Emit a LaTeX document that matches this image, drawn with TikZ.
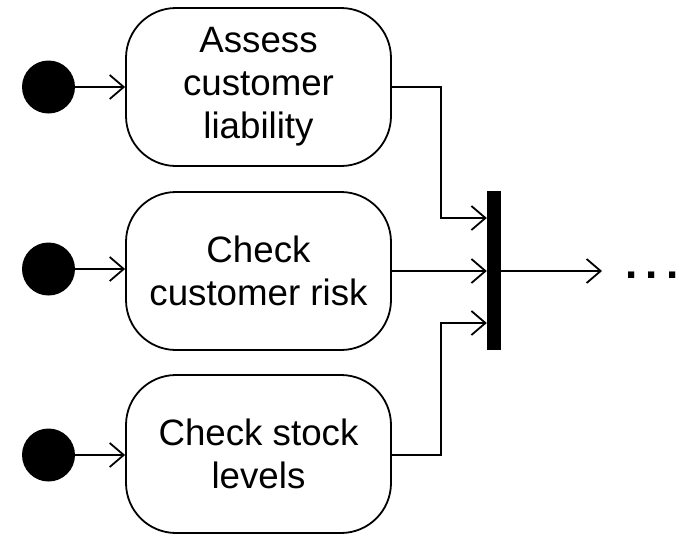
\documentclass[tikz,border=0pt]{standalone}
\usepackage{fontspec}
\setmainfont{Liberation Sans}
\usetikzlibrary{arrows.meta}
\begin{document}
\begin{tikzpicture}[x=1pt,y=-1pt,
  startdot/.style={circle,fill=black,inner sep=0pt,minimum size=53pt},
  action/.style={draw,line width=1.8pt,rounded corners=50pt,
    minimum width=265pt,minimum height=158pt,align=center,inner sep=0pt,
    font=\fontsize{36.7}{43}\selectfont},
  forkbar/.style={fill=black,inner sep=0pt,minimum width=14pt,minimum height=159pt},
  flow/.style={line width=1.8pt,-{Straight Barb[length=14pt,width=24pt,line width=1.8pt]}}]
\useasboundingbox (0,0) rectangle (682,533);

% initial nodes
\node[startdot] (s1) at (48.5,87) {};
\node[startdot] (s2) at (48.5,269) {};
\node[startdot] (s3) at (48.5,455) {};

% actions
\node[action] (a1) at (258.5,87) {Assess\\customer\\liability};
\node[action] (a2) at (258.5,271) {Check\\customer risk};
\node[action] (a3) at (258.5,454) {Check stock\\levels};

% fork/join bar
\node[forkbar] (bar) at (494,270.5) {};

% routing points
\coordinate (j1) at (441,218);
\coordinate (j3) at (441,323);
\coordinate (out) at (602,271);

% connectors
\draw[flow] (s1) -- (s1 -| a1.west);
\draw[flow] (s2) -- (s2 -| a2.west);
\draw[flow] (s3) -- (s3 -| a3.west);
\draw[flow] (a1.east |- s1) -| (j1) -- (j1 -| bar.west);
\draw[flow] (a2.east |- out) -- (out -| bar.west);
\draw[flow] (a3.east |- s3) -| (j3) -- (j3 -| bar.west);
\draw[flow] (bar.east |- out) -- (out);

\node[anchor=base,inner sep=0pt,font=\fontsize{44}{50}\selectfont\bfseries] (more) at (652,278)
  {.\hspace{8pt}.\hspace{8pt}.};
\end{tikzpicture}
\end{document}
